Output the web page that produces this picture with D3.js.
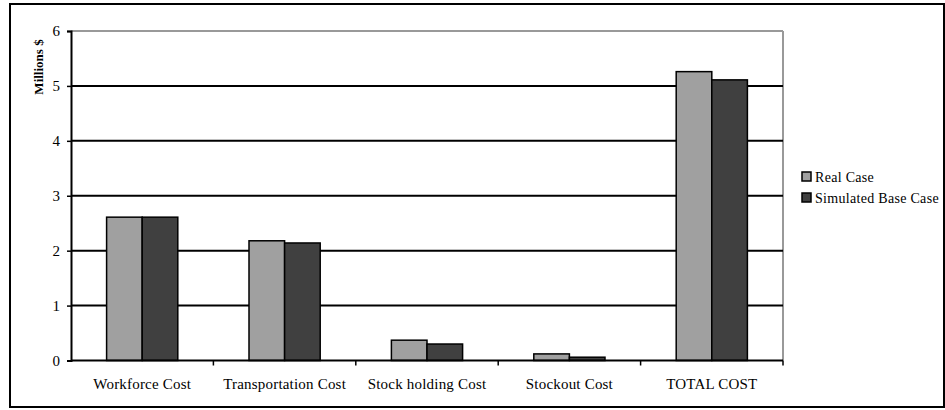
<!DOCTYPE html>
<html>
<head>
<meta charset="utf-8">
<script src="https://cdn.jsdelivr.net/npm/d3@7"></script>
<style>
  html, body { margin: 0; padding: 0; background: #fff; }
  svg { display: block; }
</style>
</head>
<body>
<svg id="chart" width="945" height="410"></svg>
<script>
// Cost categories and the two scenarios (millions of dollars)
const categories = ["Workforce Cost", "Transportation Cost", "Stock holding Cost", "Stockout Cost", "TOTAL COST"];
const seriesNames = ["Real Case", "Simulated Base Case"];
const realCase = [2.61, 2.18, 0.37, 0.12, 5.26];
const simulatedBase = [2.61, 2.14, 0.30, 0.06, 5.11];
const yTicks = [0, 1, 2, 3, 4, 5, 6];
const seriesColors = ["#a0a0a0", "#404040"];

const SERIF = '"Liberation Serif"';

const svg = d3.select("#chart");
const W = 945, H = 410;
const plot = { left: 71, right: 783, top: 31, bottom: 360.5 };

// Outer chart frame
svg.append("rect")
  .attr("x", 10).attr("y", 4)
  .attr("width", W - 11).attr("height", H - 7)
  .attr("fill", "#fff").attr("stroke", "#000").attr("stroke-width", 2);

const x0 = d3.scaleBand().domain(categories).range([plot.left, plot.right]).paddingInner(0).paddingOuter(0);
const x1 = d3.scaleBand().domain(seriesNames).range([0, x0.bandwidth() * 0.5]);
const y = d3.scaleLinear().domain([0, 6]).range([plot.bottom, plot.top]);

// Plot area border (top and right in grey)
svg.append("line")
  .attr("x1", plot.left).attr("x2", plot.right)
  .attr("y1", y(6)).attr("y2", y(6))
  .attr("stroke", "#999").attr("stroke-width", 2);
svg.append("line")
  .attr("x1", plot.right).attr("x2", plot.right)
  .attr("y1", plot.top).attr("y2", plot.bottom)
  .attr("stroke", "#999").attr("stroke-width", 2);

// Horizontal gridlines
svg.append("g")
  .selectAll("line")
  .data(yTicks.filter(t => t > 0 && t < 6))
  .join("line")
  .attr("x1", plot.left).attr("x2", plot.right)
  .attr("y1", d => y(d)).attr("y2", d => y(d))
  .attr("stroke", "#000").attr("stroke-width", 2);

// Bars
const rows = categories.map((c, i) => ({ cat: c, values: [realCase[i], simulatedBase[i]] }));
const groups = svg.append("g")
  .selectAll("g")
  .data(rows)
  .join("g")
  .attr("transform", d => `translate(${x0(d.cat) + x0.bandwidth() * 0.25},0)`);

groups.selectAll("rect")
  .data(d => d.values.map((v, j) => ({ name: seriesNames[j], v, j })))
  .join("rect")
  .attr("x", d => x1(d.name))
  .attr("y", d => y(d.v))
  .attr("width", x1.bandwidth())
  .attr("height", d => y(0) - y(d.v))
  .attr("fill", d => seriesColors[d.j])
  .attr("stroke", "#000")
  .attr("stroke-width", 1.5);

// Y axis
const yAxis = svg.append("g")
  .attr("transform", `translate(${plot.left},0)`)
  .call(d3.axisLeft(y).tickValues(yTicks).tickFormat(d3.format("d")).tickSize(4).tickPadding(7));
yAxis.select(".domain").attr("stroke", "#000").attr("stroke-width", 2);
yAxis.selectAll(".tick line").attr("stroke", "#000").attr("stroke-width", 1.5);
yAxis.selectAll(".tick text")
  .attr("fill", "#000")
  .style("font-family", SERIF)
  .style("font-size", "15px");

// X axis with ticks between categories
const xAxis = svg.append("g")
  .attr("transform", `translate(0,${plot.bottom})`);
xAxis.append("line")
  .attr("x1", plot.left).attr("x2", plot.right)
  .attr("stroke", "#000").attr("stroke-width", 2);
const boundaries = categories.map(c => x0(c)).concat([plot.right]);
xAxis.selectAll(".bt")
  .data(boundaries.slice(1))
  .join("line")
  .attr("x1", d => d).attr("x2", d => d)
  .attr("y1", 0).attr("y2", 5)
  .attr("stroke", "#000").attr("stroke-width", 1.5);
xAxis.selectAll("text")
  .data(categories)
  .join("text")
  .attr("x", d => x0(d) + x0.bandwidth() / 2)
  .attr("y", 28)
  .attr("text-anchor", "middle")
  .attr("fill", "#000")
  .style("font-family", SERIF)
  .style("font-size", "15px")
  .style("letter-spacing", "0.2px")
  .text(d => d);

// Y axis title
svg.append("text")
  .attr("transform", "translate(43,67) rotate(-90)")
  .attr("text-anchor", "middle")
  .attr("fill", "#000")
  .style("font-family", SERIF)
  .style("font-size", "13px")
  .style("font-weight", "bold")
  .text("Millions $");

// Legend
const legend = svg.append("g").attr("transform", "translate(802,172)");
const items = legend.selectAll("g")
  .data(seriesNames)
  .join("g")
  .attr("transform", (d, i) => `translate(0,${i * 21})`);
items.append("rect")
  .attr("width", 9).attr("height", 9)
  .attr("fill", (d, i) => seriesColors[i])
  .attr("stroke", "#000").attr("stroke-width", 1.5);
items.append("text")
  .attr("x", 13).attr("y", 10)
  .attr("fill", "#000")
  .style("font-family", SERIF)
  .style("font-size", "14px")
  .style("letter-spacing", "0.3px")
  .text(d => d);
</script>
</body>
</html>
